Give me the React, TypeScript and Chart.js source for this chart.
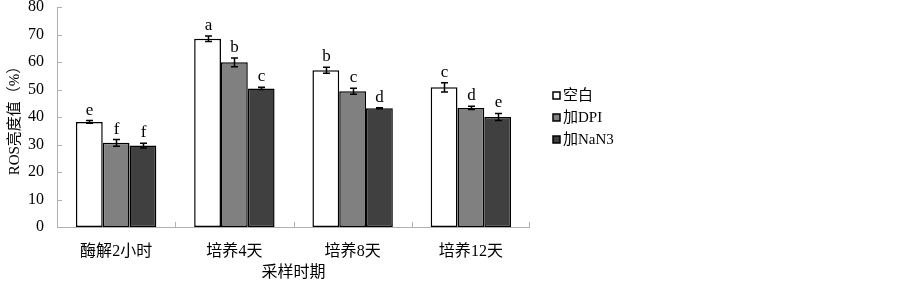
import React, { useEffect, useRef } from "react";
import { Chart, registerables } from "chart.js";

Chart.register(...registerables);

const categories = ["酶解2小时", "培养4天", "培养8天", "培养12天"];
const seriesNames = ["空白", "加DPI", "加NaN3"];
const blankValues = [38.2, 68.5, 57.0, 50.8];
const dpiValues = [30.6, 59.9, 49.4, 43.3];
const nan3Values = [29.6, 50.4, 43.2, 40.0];
const blankErrors = [0.5, 1.0, 1.1, 1.7];
const dpiErrors = [1.2, 1.6, 1.1, 0.6];
const nan3Errors = [0.9, 0.4, 0.2, 1.3];
const blankLetters = ["e", "a", "b", "c"];
const dpiLetters = ["f", "b", "c", "d"];
const nan3Letters = ["f", "c", "d", "e"];
const yTicks = [0, 10, 20, 30, 40, 50, 60, 70, 80];

const colors = ["#ffffff", "#808080", "#404040"];
const FONT = "'Liberation Serif', 'Noto Sans CJK SC', serif";

const errorsAll = [blankErrors, dpiErrors, nan3Errors];
const lettersAll = [blankLetters, dpiLetters, nan3Letters];

const decorPlugin = {
  id: "decor",
  afterDatasetsDraw(chart: any) {
    const ctx = chart.ctx;
    const area = chart.chartArea;
    const x = chart.scales.x;
    const y = chart.scales.y;
    ctx.save();
    // axes
    ctx.strokeStyle = "#b0b0b0";
    ctx.lineWidth = 1;
    ctx.beginPath();
    ctx.moveTo(area.left + 0.5, area.top);
    ctx.lineTo(area.left + 0.5, area.bottom + 0.5);
    ctx.lineTo(area.right, area.bottom + 0.5);
    ctx.stroke();
    // y inner ticks
    ctx.beginPath();
    yTicks.forEach((v) => {
      const py = Math.round(y.getPixelForValue(v)) + 0.5;
      ctx.moveTo(area.left, py);
      ctx.lineTo(area.left + 5, py);
    });
    // x inner ticks at category boundaries
    for (let i = 1; i <= categories.length; i++) {
      const px = Math.round((x.getPixelForValue(i - 1) + x.getPixelForValue(i)) / 2) + 0.5;
      const bx = i === categories.length ? Math.round(area.right) - 0.5 : px;
      ctx.moveTo(bx, area.bottom);
      ctx.lineTo(bx, area.bottom - 5);
    }
    ctx.stroke();

    // error bars and letters
    chart.data.datasets.forEach((ds: any, di: number) => {
      const meta = chart.getDatasetMeta(di);
      meta.data.forEach((bar: any, i: number) => {
        const v = ds.data[i];
        const e = errorsAll[di][i];
        const top = y.getPixelForValue(v + e);
        const bot = y.getPixelForValue(v - e);
        const cx = Math.round(bar.x) + 0.5;
        ctx.strokeStyle = "#000";
        ctx.lineWidth = 1.5;
        ctx.beginPath();
        ctx.moveTo(cx, top);
        ctx.lineTo(cx, bot);
        ctx.moveTo(cx - 3.5, top);
        ctx.lineTo(cx + 3.5, top);
        ctx.moveTo(cx - 3.5, bot);
        ctx.lineTo(cx + 3.5, bot);
        ctx.stroke();
        ctx.fillStyle = "#000";
        ctx.font = "17px " + FONT;
        ctx.textAlign = "center";
        ctx.textBaseline = "alphabetic";
        ctx.fillText(lettersAll[di][i], cx, top - 6);
      });
    });

    // legend
    const lx = 553;
    const rows = [96, 118, 140];
    seriesNames.forEach((name, i) => {
      ctx.fillStyle = colors[i];
      ctx.fillRect(lx, rows[i] - 4, 7, 7);
      ctx.strokeStyle = "#000";
      ctx.lineWidth = 1.5;
      ctx.strokeRect(lx, rows[i] - 4, 7, 7);
      ctx.fillStyle = "#000";
      ctx.font = "15px " + FONT;
      ctx.textAlign = "left";
      ctx.textBaseline = "middle";
      ctx.fillText(name, lx + 10, rows[i]);
    });
    ctx.restore();
  },
};

export default function App() {
  const ref = useRef<HTMLCanvasElement>(null);
  useEffect(() => {
    if (!ref.current) return;
    const chart = new Chart(ref.current, {
      type: "bar",
      data: {
        labels: categories,
        datasets: [blankValues, dpiValues, nan3Values].map((d, i) => ({
          label: seriesNames[i],
          data: d,
          backgroundColor: colors[i],
          borderColor: "#000",
          borderWidth: 1.5,
          borderSkipped: false,
          barPercentage: 1,
          categoryPercentage: 0.68,
        })),
      },
      options: {
        animation: false,
        responsive: true,
        maintainAspectRatio: false,
        layout: { padding: { left: 0, top: 7, right: 373, bottom: 0 } },
        plugins: { legend: { display: false }, tooltip: { enabled: false } },
        scales: {
          x: {
            grid: { display: false },
            border: { display: false },
            ticks: { color: "#000", font: { family: FONT, size: 16 }, padding: 7 },
            title: {
              display: true,
              text: "采样时期",
              color: "#000",
              font: { family: FONT, size: 16 },
              padding: { top: 0, bottom: 2 },
            },
            afterFit: (s: any) => {
              s.height = 57;
              s.paddingLeft = 0;
              s.paddingRight = 0;
            },
          },
          y: {
            min: 0,
            max: 80,
            grid: { display: false },
            border: { display: false },
            ticks: {
              stepSize: 10,
              color: "#000",
              font: { family: FONT, size: 16 },
              padding: 5,
            },
            title: {
              display: true,
              text: "ROS亮度值（%）",
              color: "#000",
              font: { family: FONT, size: 15 },
              padding: { top: 6, bottom: 0 },
            },
            afterFit: (s: any) => {
              s.width = 57;
              s.paddingTop = 0;
              s.paddingBottom = 0;
            },
          },
        },
      },
      plugins: [decorPlugin],
    });
    return () => chart.destroy();
  }, []);
  return (
    <div style={{ position: "fixed", left: 0, top: 0, width: 903, height: 284, background: "#fff" }}>
      <canvas ref={ref} />
    </div>
  );
}
